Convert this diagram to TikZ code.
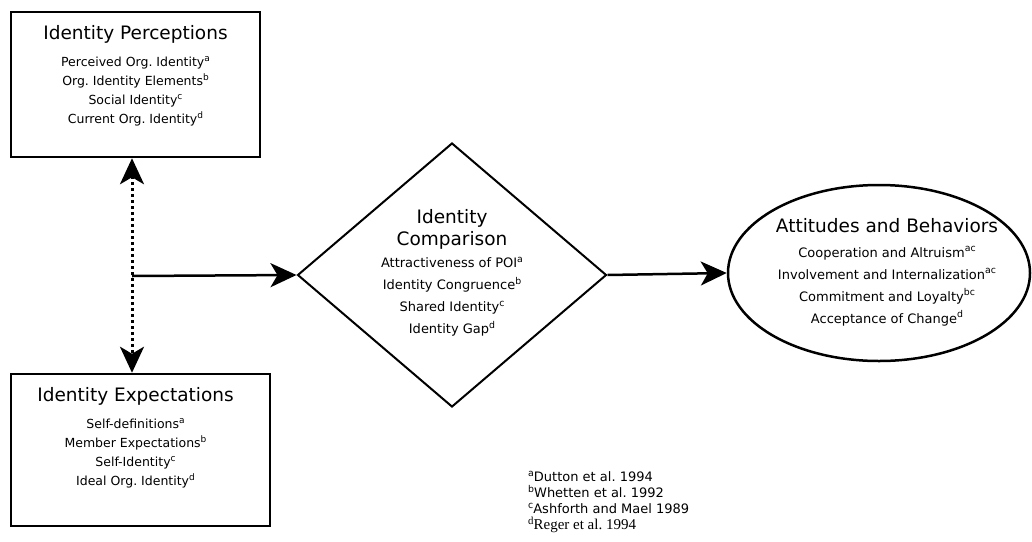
\documentclass[tikz,border=0pt]{standalone}
\usepackage{fontspec}
\setmainfont{DejaVu Sans}
\newfontfamily\refserif{Liberation Serif}
\usetikzlibrary{arrows.meta,shapes.geometric,positioning}
\newcommand{\titlefont}{\fontsize{18.5}{22}\selectfont}
\newcommand{\boxfont}{\fontsize{12.5}{19}\selectfont}
\newcommand{\shapefont}{\fontsize{13}{22}\selectfont}
\newcommand{\reffont}{\fontsize{13}{16}\selectfont}
\newcommand{\refmark}[1]{\raisebox{0.75ex}{\scalebox{0.72}{#1}}}

\begin{document}
\begin{tikzpicture}[x=1pt,y=-1pt,
    >={Stealth[length=26pt, width=24pt, inset=7pt]},
    idbox/.style={draw, line width=2.5pt, inner sep=0pt},
    cmpdiamond/.style={draw, diamond, line width=2pt, inner sep=0pt, minimum width=309pt, minimum height=264pt},
    attell/.style={draw, ellipse, line width=2.5pt, inner sep=0pt, minimum width=302pt, minimum height=176pt},
    boxtext/.style={align=center, font=\boxfont, inner sep=0pt},
    shapetext/.style={align=center, font=\shapefont, inner sep=0pt},
    flowline/.style={line width=2.5pt, ->},
    dotline/.style={line width=3pt, dash pattern=on 3pt off 3pt, <->}]
    \useasboundingbox (0,0) rectangle (1032,541);

    \node[idbox, minimum width=249pt, minimum height=145pt] (perc) at (135.5,84.5) {};
    \node[boxtext] (perctext) at (135.5,76) {{\titlefont Identity Perceptions}\\[8pt]
      Perceived Org.\ Identity\refmark{a}\\ Org.\ Identity Elements\refmark{b}\\
      Social Identity\refmark{c}\\ Current Org.\ Identity\refmark{d}};

    \node[idbox, minimum width=259pt, minimum height=152pt] (expt) at (140.5,450) {};
    \node[boxtext] (expttext) at (135.5,438) {{\titlefont Identity Expectations}\\[8pt]
      Self-definitions\refmark{a}\\ Member Expectations\refmark{b}\\
      Self-Identity\refmark{c}\\ Ideal Org.\ Identity\refmark{d}};

    \node[cmpdiamond] (cmp) at (452,275) {};
    \node[shapetext] (cmptext) at (452,273) {{\titlefont Identity}\\ {\titlefont Comparison}\\
      Attractiveness of POI\refmark{a}\\ Identity Congruence\refmark{b}\\
      Shared Identity\refmark{c}\\ Identity Gap\refmark{d}};

    \node[attell] (att) at (879,273) {};
    \node[shapetext] (atttext) at (887,272) {{\titlefont Attitudes and Behaviors}\\[3pt]
      Cooperation and Altruism\refmark{ac}\\ Involvement and Internalization\refmark{ac}\\
      Commitment and Loyalty\refmark{bc}\\ Acceptance of Change\refmark{d}};

    \node[align=left, font=\reffont, inner sep=0pt, anchor=north west] (refs) at (528,471) {\refmark{a}Dutton et al.\ 1994\\
      \refmark{b}Whetten et al.\ 1992\\ \refmark{c}Ashforth and Mael 1989\\
      {\refserif\fontsize{15}{16}\selectfont\refmark{d}Reger et al.\ 1994}};

    \coordinate (split) at (132,276);
    \draw[dotline] (perc.south -| split) -- (expt.north -| split);
    \draw[flowline] (split) -- (cmp.west);
    \draw[flowline] (cmp.east) -- (att.west);
\end{tikzpicture}
\end{document}
